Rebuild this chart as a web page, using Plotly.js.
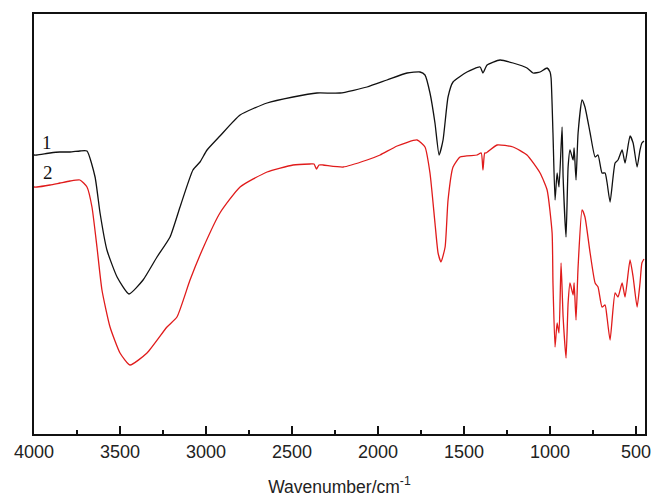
<!DOCTYPE html>
<html>
<head>
<meta charset="utf-8">
<script src="https://cdn.plot.ly/plotly-3.0.1.min.js"></script>
<style>html,body{margin:0;padding:0;background:#fff;}#chart{width:654px;height:497px;}</style>
</head>
<body>
<div id="chart"></div>
<script>
// Sample 1 (black) — wavenumber (cm-1) and transmittance (a.u.)
const wn1 = [4000,3983,3907,3849,3791,3733,3692,3645,3616,3576,3517,3448,3366,3285,3209,3151,3076,3035,2994,2919,2802,2645,2494,2355,2221,2064,1948,1831,1756,1727,1698,1669,1645,1622,1593,1564,1483,1407,1390,1366,1291,1215,1134,1099,1058,1017,1000,994,983,971,959,948,930,924,907,895,884,866,860,849,837,814,797,767,738,721,698,680,669,651,622,605,581,564,535,517,494,477,466,454];
const t1 = [279,279,281,282,282,283,283,257,221,184,157,140,154,177,197,227,264,272,284,298,319,331,337,341,341,347,354,361,362,359,341,311,279,294,337,352,362,367,361,369,374,371,366,361,362,366,362,356,301,234,261,247,307,257,197,267,284,274,286,254,301,334,327,301,277,279,261,261,252,232,271,274,284,271,298,291,267,284,291,293];

// Sample 2 (red)
const wn2 = [4000,3983,3907,3849,3791,3733,3692,3663,3634,3605,3558,3500,3442,3343,3227,3169,3093,3017,2919,2802,2645,2494,2395,2372,2358,2343,2320,2203,2064,1988,1889,1773,1727,1698,1669,1651,1634,1610,1593,1564,1523,1424,1400,1390,1380,1372,1308,1215,1134,1058,1017,988,983,971,959,948,936,924,907,895,884,866,860,849,837,814,797,767,738,721,698,680,669,651,622,605,581,564,535,517,494,477,466,454];
const t2 = [247,247,249,251,253,254,247,227,187,144,107,81,69,81,107,117,154,186,221,247,262,269,270,270,265,269,269,267,274,279,288,294,287,261,211,181,172,187,234,267,277,279,281,264,281,281,289,287,279,261,244,201,151,87,111,101,171,117,76,131,151,139,151,114,167,224,217,181,151,147,127,129,117,94,141,137,151,137,174,157,127,151,171,175];

const seriesLabels = ["1", "2"];
const labelPos = [[3924, 292], [3918, 262]];
const xTickVals = [4000,3500,3000,2500,2000,1500,1000,500];

const traces = [
  {x: wn1, y: t1, type: 'scatter', mode: 'lines', line: {color: '#111111', width: 1.3, shape: 'spline', smoothing: 0.5}, name: seriesLabels[0], hoverinfo: 'skip'},
  {x: wn2, y: t2, type: 'scatter', mode: 'lines', line: {color: '#e01b1b', width: 1.3, shape: 'spline', smoothing: 0.5}, name: seriesLabels[1], hoverinfo: 'skip'}
];

const layout = {
  width: 654, height: 497,
  margin: {l: 34, r: 9, t: 14, b: 63},
  paper_bgcolor: '#ffffff', plot_bgcolor: '#ffffff',
  showlegend: false,
  xaxis: {
    range: [4000, 448],
    tickvals: xTickVals,
    ticktext: xTickVals.map(String),
    ticks: 'inside', ticklen: 8, tickwidth: 2, tickcolor: '#111',
    minor: {dtick: 250, tick0: 0, ticks: 'inside', ticklen: 4, tickwidth: 2, tickcolor: '#111'},
    showline: true, linecolor: '#111', linewidth: 2, mirror: true,
    showgrid: false, zeroline: false,
    tickfont: {family: 'Liberation Sans, Arial, sans-serif', size: 18, color: '#222'},
    title: {text: 'Wavenumber/cm<sup>-1</sup>', font: {family: 'Liberation Sans, Arial, sans-serif', size: 17.5, color: '#222'}, standoff: 20}
  },
  yaxis: {
    range: [0, 420],
    showticklabels: false, ticks: '',
    showline: true, linecolor: '#111', linewidth: 2, mirror: true,
    showgrid: false, zeroline: false
  },
  annotations: seriesLabels.map((s, i) => ({
    x: labelPos[i][0], y: labelPos[i][1], xref: 'x', yref: 'y',
    text: s, showarrow: false,
    font: {family: 'Liberation Serif, Times New Roman, serif', size: 19, color: '#111'}
  }))
};

Plotly.newPlot('chart', traces, layout, {displayModeBar: false, staticPlot: true});
</script>
</body>
</html>
